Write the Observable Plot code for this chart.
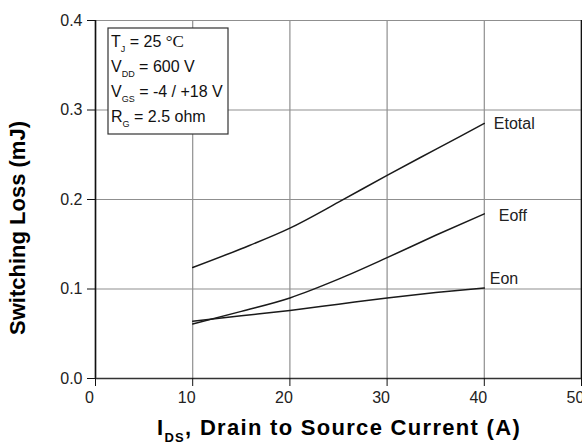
<!DOCTYPE html>
<html><head><meta charset="utf-8">
<script src="https://cdn.jsdelivr.net/npm/d3@7"></script>
<script src="https://cdn.jsdelivr.net/npm/@observablehq/plot@0.6"></script>
<style>body{margin:0;background:#fff} svg{display:block}</style>
</head><body><div id="chart"></div>
<script>
const current = [10, 15, 20, 25, 30, 35, 40];
const eTotal = [0.124, 0.145, 0.168, 0.197, 0.227, 0.256, 0.285];
const eOff   = [0.061, 0.075, 0.090, 0.111, 0.135, 0.160, 0.184];
const eOn    = [0.064, 0.070, 0.076, 0.083, 0.090, 0.096, 0.101];
const seriesNames = ["Etotal", "Eoff", "Eon"];
const xTicks = [0, 10, 20, 30, 40, 50];
const yTicks = [0, 0.1, 0.2, 0.3, 0.4];
const conditions = [["T", "J", " = 25 ", "°C"], ["V", "DD", " = 600 V", ""], ["V", "GS", " = -4 / +18 V", ""], ["R", "G", " = 2.5 ohm", ""]];
const xTitle = ["I", "DS", ", Drain to Source Current (A)"];
const yTitle = "Switching Loss (mJ)";

const rows = [];
[eTotal, eOff, eOn].forEach((vals, k) =>
  current.forEach((c, i) => rows.push({series: seriesNames[k], current: c, loss: vals[i]})));
const ends = seriesNames.map(s => rows.filter(r => r.series === s).slice(-1)[0]);
const endOf = s => ends.filter(d => d.series === s);

const gridStyle = {stroke: "#8f8f8f", strokeOpacity: 1, strokeWidth: 1.2};
const chart = Plot.plot({
  width: 582, height: 447,
  marginLeft: 95, marginRight: 1, marginTop: 20, marginBottom: 69,
  style: {fontFamily: "'Liberation Sans', Arial, sans-serif", fontSize: "16px", color: "#000", background: "#fff"},
  x: {domain: [0, 50]},
  y: {domain: [0, 0.4]},
  marks: [
    Plot.gridX(xTicks, gridStyle),
    Plot.gridY(yTicks, gridStyle),
    Plot.ruleX([0, 50], {stroke: "#111", strokeWidth: 1.6}),
    Plot.ruleY([0], {stroke: "#333", strokeWidth: 1.5}),
    Plot.axisX(xTicks, {tickSize: 8, tickFormat: () => "", label: null, stroke: "#111"}),
    Plot.axisX(xTicks, {tickSize: 0, tickPadding: 13, dx: -6, label: null, fontSize: 16, fill: "#222"}),
    Plot.axisY(yTicks, {tickSize: 8, tickPadding: 5, tickFormat: d3.format(".1f"), label: null, fontSize: 16, fill: "#222", stroke: "#111"}),
    Plot.line(rows, {x: "current", y: "loss", z: "series", stroke: "#1a1a1a", strokeWidth: 1.5, curve: "monotone-x"}),
    Plot.text(endOf("Etotal"), {x: "current", y: "loss", text: "series", textAnchor: "start", dx: 9.5, dy: 0, fontSize: 16, fill: "#222"}),
    Plot.text(endOf("Eoff"), {x: "current", y: "loss", text: "series", textAnchor: "start", dx: 14.5, dy: 2.3, fontSize: 16, fill: "#222"}),
    Plot.text(endOf("Eon"), {x: "current", y: "loss", text: "series", textAnchor: "start", dx: 5.5, dy: -9.4, fontSize: 16, fill: "#222"})
  ]
});
document.getElementById("chart").appendChild(chart);

const svg = d3.select(chart);
// conditions box
const g = svg.append("g").attr("text-anchor", "start");
g.append("rect").attr("x", 108).attr("y", 28).attr("width", 120).attr("height", 106)
  .attr("fill", "#fff").attr("stroke", "#333").attr("stroke-width", 1.2);
conditions.forEach((c, i) => {
  const t = g.append("text").attr("x", 111).attr("y", 47 + i * 25).attr("text-anchor", "start")
    .attr("font-size", 16).attr("fill", "#111");
  t.append("tspan").text(c[0]);
  t.append("tspan").attr("font-size", 9).attr("dy", 5).text(c[1]);
  t.append("tspan").attr("dy", -5).text(c[2]);
  if (c[3]) t.append("tspan").attr("font-family", "'Liberation Serif', serif").attr("font-size", 17).text(c[3]);
});
// x title
const xt = svg.append("text").attr("x", 339).attr("y", 435).attr("text-anchor", "middle")
  .attr("font-size", 22).attr("font-weight", "bold").attr("letter-spacing", 1.3).attr("fill", "#000");
xt.append("tspan").text(xTitle[0]);
xt.append("tspan").attr("font-size", 13).attr("dy", 7).text(xTitle[1]);
xt.append("tspan").attr("dy", -7).text(xTitle[2]);
// y title
svg.append("text").attr("transform", "translate(25,228) rotate(-90)").attr("text-anchor", "middle")
  .attr("font-size", 22).attr("font-weight", "bold").attr("fill", "#000").text(yTitle);
</script>
</body></html>
